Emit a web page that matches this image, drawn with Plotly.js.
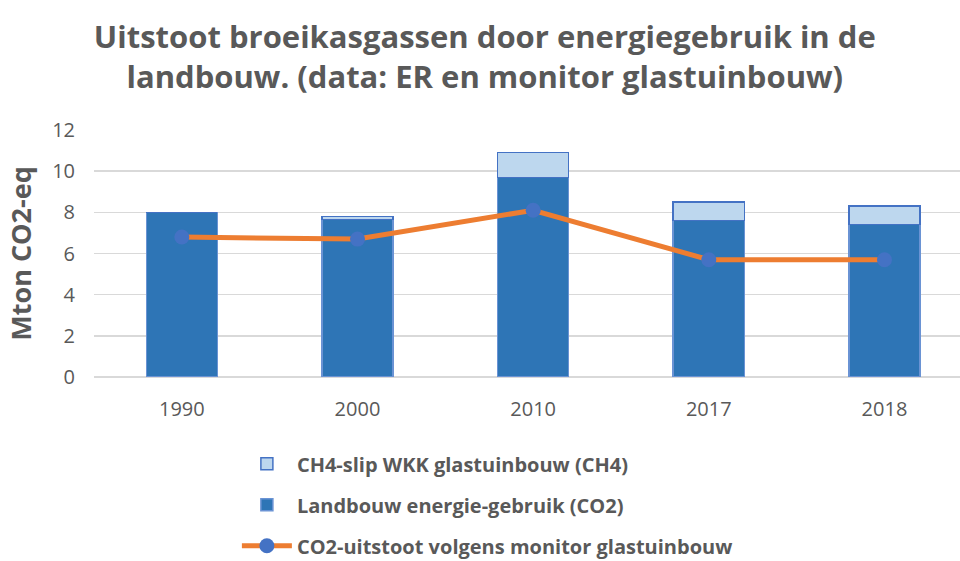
<!DOCTYPE html>
<html><head><meta charset="utf-8">
<script src="https://cdn.plot.ly/plotly-3.0.1.min.js"></script>
<style>html,body{margin:0;padding:0;background:#fff}#c{width:960px;height:561px}</style>
</head><body><div id="c"></div>
<script>
const years = ['1990','2000','2010','2017','2018'];
const co2Landbouw = [8.0, 7.65, 9.7, 7.6, 7.4];
const ch4Slip = [0, 0.15, 1.2, 0.9, 0.9];
const co2Monitor = [6.8, 6.7, 8.1, 5.7, 5.7];
const yTicks = [0, 2, 4, 6, 8, 10, 12];

const font = 'Open Sans, Liberation Sans, sans-serif';
const gray = '#595959';

const traces = [
  {type:'bar', x:years, y:co2Landbouw, name:'Landbouw energie-gebruik (CO2)',
   marker:{color:'#2E75B6', line:{color:'#6A93D4', width:1.5}}, width:0.405,
   legendrank:2, legendgroup:'b', hoverinfo:'y'},
  {type:'bar', x:years, y:ch4Slip, name:'CH4-slip WKK glastuinbouw (CH4)',
   marker:{color:'#BDD7EE', line:{color:'#4472C4', width:1.5}}, width:0.405,
   legendrank:1, legendgroup:'a', hoverinfo:'y'},
  {type:'scatter', mode:'lines+markers', x:years, y:co2Monitor,
   name:'CO2-uitstoot volgens monitor glastuinbouw',
   line:{color:'#ED7D31', width:5}, marker:{color:'#4472C4', size:15},
   legendrank:3, legendgroup:'c'}
];

const layout = {
  width:960, height:561,
  margin:{l:94, r:0, t:130, b:184},
  paper_bgcolor:'#fff', plot_bgcolor:'#fff',
  barmode:'stack',
  showlegend:true,
  title:{text:'Uitstoot broeikasgassen door energiegebruik in de<br>landbouw. (data: ER en monitor glastuinbouw)',
         font:{family:font, size:31, color:gray, weight:'bold'}, x:0.505, xanchor:'center',
         yref:'container', y:0.915, yanchor:'middle'},
  xaxis:{type:'category', range:[-0.5, 4.43], showgrid:false, zeroline:false, showline:false,
         tickfont:{family:font, size:20, color:gray}, ticks:'', ticklabelstandoff:18, fixedrange:true},
  yaxis:{range:[0,12], tickvals:yTicks, showgrid:true, gridcolor:'#D9D9D9', gridwidth:1.5,
         zeroline:true, zerolinecolor:'#D9D9D9', zerolinewidth:1.5, showline:false,
         tickfont:{family:font, size:20, color:gray}, ticklabelstandoff:18,
         title:{text:'Mton CO2-eq', font:{family:font, size:27, color:gray, weight:'bold'}, standoff:12}},
  legend:{x:0.165, xref:'paper', y:0.208, yref:'container', xanchor:'left', yanchor:'top', orientation:'v',
          traceorder:'grouped', tracegroupgap:12, itemwidth:50,
          font:{family:font, size:20, color:gray, weight:'bold'}, bgcolor:'rgba(0,0,0,0)'}
};
Plotly.newPlot('c', traces, layout, {displayModeBar:false, staticPlot:true});
</script></body></html>
